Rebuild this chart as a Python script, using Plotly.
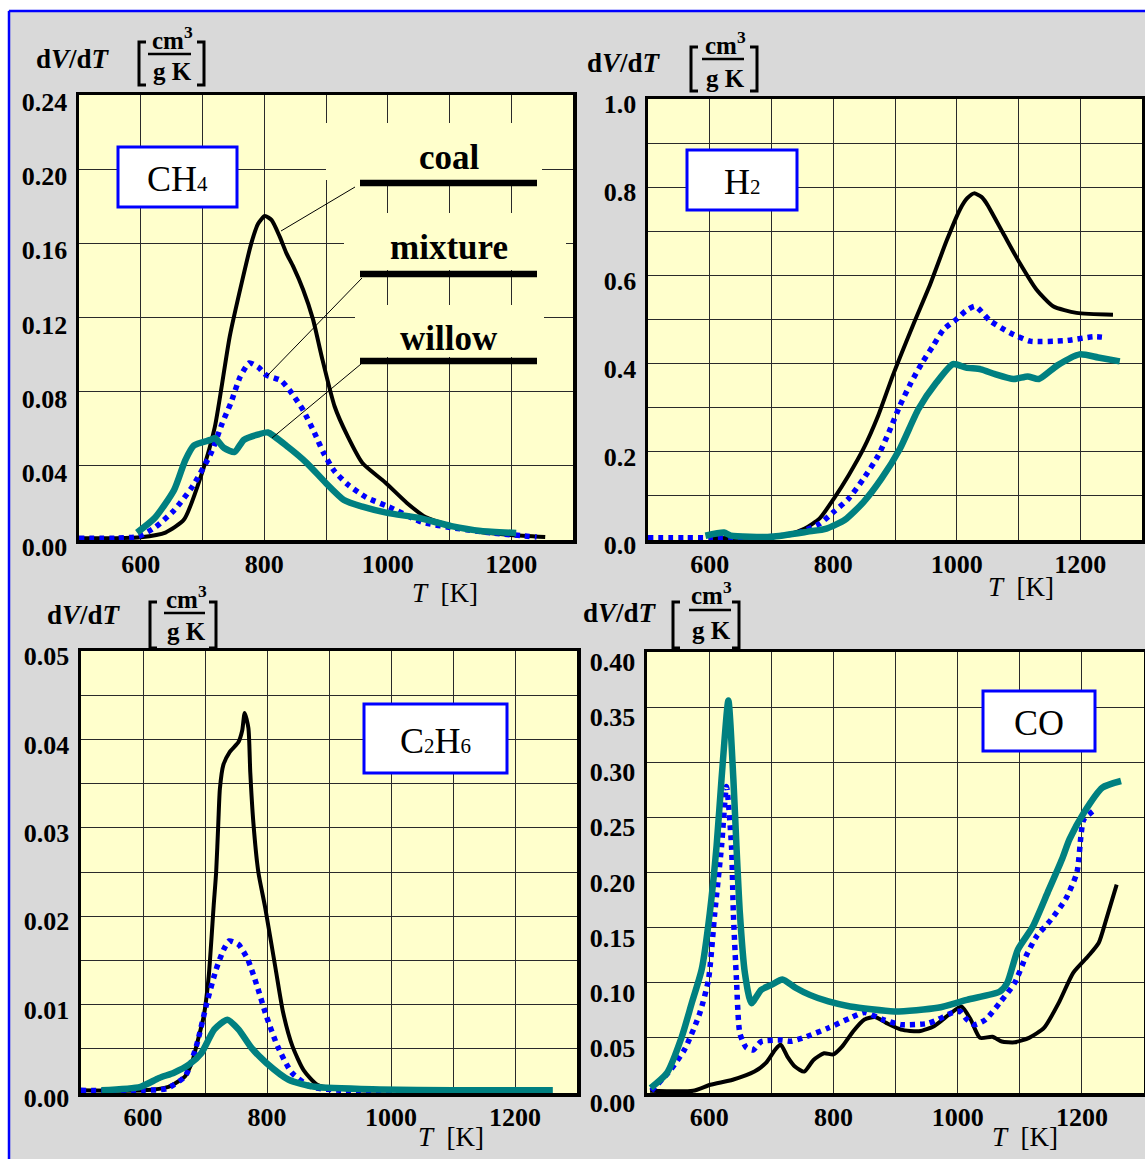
import plotly.graph_objects as go

W, H = 1145, 1159


def PX(x):
    return x / W


def PY(y):
    return 1 - y / H


# ---------------- data ----------------
T_GRID = [500, 600, 700, 800, 900, 1000, 1100, 1200, 1300]
T_TICKS = [600, 800, 1000, 1200]
T_TICKTEXT = ["600", "800", "1000", "1200"]

# CH4
ch4_T_coal = [500, 560, 600, 640, 670, 699, 720, 744, 763, 779, 790, 801, 812, 825, 836, 847, 863, 879, 893, 914, 935, 959, 996, 1031, 1061, 1100, 1151, 1199, 1255]
ch4_coal = [0.001, 0.001, 0.0015, 0.004, 0.011, 0.036, 0.061, 0.1096, 0.138, 0.160, 0.1705, 0.1747, 0.1725, 0.1636, 0.1546, 0.1474, 0.135, 0.119, 0.099, 0.072, 0.056, 0.0415, 0.031, 0.020, 0.0124, 0.008, 0.0043, 0.0027, 0.0016]
ch4_T_mix = [500, 560, 597, 624, 654, 684, 714, 732, 746, 761, 776, 791, 803, 827, 845, 863, 881, 896, 914, 935, 965, 1001, 1055, 1109, 1169, 1241]
ch4_mix = [0.001, 0.001, 0.002, 0.007, 0.016, 0.029, 0.047, 0.063, 0.074, 0.088, 0.0955, 0.093, 0.089, 0.086, 0.079, 0.070, 0.058, 0.047, 0.037, 0.030, 0.023, 0.018, 0.0097, 0.0064, 0.0038, 0.0016]
ch4_T_willow = [594, 623, 654, 672, 686, 713, 720, 735, 752, 767, 791, 806, 839, 869, 899, 929, 959, 1001, 1049, 1103, 1151, 1208]
ch4_willow = [0.004, 0.012, 0.027, 0.043, 0.051, 0.054, 0.055, 0.0496, 0.0475, 0.054, 0.057, 0.058, 0.050, 0.0415, 0.031, 0.0216, 0.018, 0.0145, 0.012, 0.0075, 0.0049, 0.0038]
ch4_ygrid = [0.0, 0.04, 0.08, 0.12, 0.16, 0.20, 0.24]
ch4_yticks = [0.0, 0.04, 0.08, 0.12, 0.16, 0.20, 0.24]
ch4_yticktext = ["0.00", "0.04", "0.08", "0.12", "0.16", "0.20", "0.24"]

# H2
h2_T_coal = [600, 650, 700, 730, 754, 778, 801, 825, 849, 873, 897, 930, 957, 984, 1005, 1017, 1028, 1040, 1048, 1075, 1102, 1129, 1156, 1194, 1253]
h2_coal = [0.004, 0.005, 0.008, 0.014, 0.026, 0.049, 0.094, 0.147, 0.207, 0.283, 0.375, 0.490, 0.580, 0.680, 0.749, 0.775, 0.786, 0.778, 0.764, 0.696, 0.628, 0.568, 0.530, 0.515, 0.511]
h2_T_mix = [500, 560, 600, 650, 700, 740, 778, 801, 825, 849, 873, 890, 908, 926, 944, 962, 979, 999, 1015, 1030, 1054, 1086, 1119, 1175, 1222, 1243]
h2_mix = [0.005, 0.005, 0.005, 0.006, 0.008, 0.015, 0.037, 0.064, 0.094, 0.139, 0.192, 0.244, 0.305, 0.357, 0.402, 0.441, 0.478, 0.500, 0.520, 0.530, 0.497, 0.470, 0.451, 0.452, 0.461, 0.459]
h2_T_willow = [593, 623, 634, 700, 759, 789, 819, 849, 878, 908, 938, 967, 994, 1015, 1039, 1062, 1092, 1115, 1133, 1163, 1199, 1229, 1264]
h2_willow = [0.0097, 0.017, 0.010, 0.0075, 0.019, 0.026, 0.046, 0.086, 0.139, 0.207, 0.297, 0.357, 0.399, 0.391, 0.387, 0.376, 0.365, 0.371, 0.365, 0.396, 0.421, 0.414, 0.405]
h2_ygrid = [0.0, 0.1, 0.2, 0.3, 0.4, 0.5, 0.6, 0.7, 0.8, 0.9, 1.0]
h2_yticks = [0.0, 0.2, 0.4, 0.6, 0.8, 1.0]
h2_yticktext = ["0.0", "0.2", "0.4", "0.6", "0.8", "1.0"]

# C2H6
c2_T_coal = [500, 600, 641, 668, 680, 686, 698, 706, 714, 718, 721.5, 724, 729.5, 740, 754, 760, 764, 770, 773, 778, 786, 797, 814, 826, 841, 859, 882, 950, 1000]
c2_coal = [0.0003, 0.0003, 0.0007, 0.0019, 0.0037, 0.0053, 0.0087, 0.0132, 0.0212, 0.0250, 0.0306, 0.0344, 0.0371, 0.0386, 0.0397, 0.0410, 0.0430, 0.0413, 0.0363, 0.0306, 0.0250, 0.0210, 0.0140, 0.0091, 0.0053, 0.0026, 0.0009, 0.0003, 0.0003]
c2_T_mix = [500, 600, 638, 668, 686, 703, 718, 730, 739, 754, 769, 784, 799, 817, 840, 871, 920, 1000]
c2_mix = [0.0003, 0.0003, 0.0005, 0.0019, 0.0053, 0.0102, 0.0140, 0.0162, 0.0172, 0.0168, 0.0151, 0.0121, 0.0087, 0.0053, 0.0023, 0.0007, 0.0003, 0.0001]
c2_T_willow = [533, 596, 626, 650, 674, 694, 715, 736, 754, 775, 799, 835, 877, 982, 1100, 1261]
c2_willow = [0.0003, 0.0007, 0.0017, 0.0023, 0.0032, 0.0045, 0.0072, 0.0083, 0.0072, 0.0051, 0.0034, 0.0015, 0.0007, 0.0004, 0.0003, 0.0003]
c2_ygrid = [0.0, 0.005, 0.01, 0.015, 0.02, 0.025, 0.03, 0.035, 0.04, 0.045, 0.05]
c2_yticks = [0.0, 0.01, 0.02, 0.03, 0.04, 0.05]
c2_yticktext = ["0.00", "0.01", "0.02", "0.03", "0.04", "0.05"]

# CO
co_T_coal = [505, 574, 602, 638, 673, 691, 706, 715, 726, 738, 753, 768, 785, 800, 814, 832, 850, 867, 885, 909, 938, 962, 986, 1006, 1021, 1036, 1056, 1071, 1092, 1115, 1139, 1163, 1186, 1210, 1227, 1239, 1256]
co_coal = [0.002, 0.002, 0.0075, 0.012, 0.0194, 0.027, 0.039, 0.044, 0.033, 0.024, 0.0194, 0.030, 0.036, 0.035, 0.042, 0.056, 0.0666, 0.069, 0.0636, 0.0575, 0.056, 0.0606, 0.071, 0.0785, 0.0666, 0.050, 0.051, 0.0467, 0.046, 0.050, 0.059, 0.082, 0.109, 0.124, 0.136, 0.157, 0.189]
co_T_mix = [507, 538, 561, 585, 599, 609, 620, 628, 636, 639, 644, 649.5, 660, 671, 684, 716, 732, 756, 792, 827, 850, 880, 909, 951, 968, 992, 1004, 1015, 1027, 1045, 1068, 1092, 1110, 1127, 1150, 1174, 1192, 1199, 1203, 1221]
co_mix = [0.002, 0.021, 0.040, 0.0725, 0.103, 0.163, 0.224, 0.278, 0.224, 0.163, 0.103, 0.054, 0.041, 0.039, 0.0467, 0.048, 0.047, 0.051, 0.059, 0.068, 0.073, 0.0666, 0.062, 0.063, 0.0666, 0.073, 0.074, 0.0666, 0.062, 0.0666, 0.082, 0.100, 0.124, 0.142, 0.157, 0.176, 0.200, 0.236, 0.248, 0.257]
co_T_willow = [506, 532, 556, 572, 588, 601, 612, 620, 631, 639, 644, 649.5, 657.5, 668, 684, 700, 718, 739, 762, 792, 827, 898, 968, 1015, 1068, 1080, 1097, 1121, 1145, 1168, 1180, 1203, 1233, 1263]
co_willow = [0.0045, 0.018, 0.051, 0.0815, 0.112, 0.163, 0.224, 0.285, 0.356, 0.285, 0.224, 0.163, 0.109, 0.0815, 0.0936, 0.098, 0.103, 0.0955, 0.089, 0.083, 0.0785, 0.074, 0.0773, 0.0845, 0.092, 0.100, 0.130, 0.151, 0.182, 0.212, 0.230, 0.254, 0.277, 0.283]
co_ygrid = [0.0, 0.05, 0.10, 0.15, 0.20, 0.25, 0.30, 0.35, 0.40]
co_yticks = [0.0, 0.05, 0.10, 0.15, 0.20, 0.25, 0.30, 0.35, 0.40]
co_yticktext = ["0.00", "0.05", "0.10", "0.15", "0.20", "0.25", "0.30", "0.35", "0.40"]

# ---------------- styles ----------------
SERIF = "Liberation Serif, Times New Roman, serif"
PLOT_BG = "#ffffcc"
PAPER_BG = "#d9d9d9"
TEAL = "#008080"
BLUE = "#0000ff"
GRID = "#2a2a2a"

fig = go.Figure()

panels = [
    ("x", "y", (ch4_T_coal, ch4_coal), (ch4_T_mix, ch4_mix), (ch4_T_willow, ch4_willow)),
    ("x2", "y2", (h2_T_coal, h2_coal), (h2_T_mix, h2_mix), (h2_T_willow, h2_willow)),
    ("x3", "y3", (c2_T_coal, c2_coal), (c2_T_mix, c2_mix), (c2_T_willow, c2_willow)),
    ("x4", "y4", (co_T_coal, co_coal), (co_T_mix, co_mix), (co_T_willow, co_willow)),
]

for xa, ya, coal, mix, wil in panels:
    fig.add_trace(go.Scatter(x=coal[0], y=coal[1], xaxis=xa, yaxis=ya, mode="lines",
                             line=dict(color="black", width=4, shape="spline", smoothing=0.6),
                             name="coal", showlegend=False, hoverinfo="skip"))
    fig.add_trace(go.Scatter(x=mix[0], y=mix[1], xaxis=xa, yaxis=ya, mode="lines",
                             line=dict(color=BLUE, width=5.5, dash="5px,5px", shape="spline", smoothing=0.6),
                             name="mixture", showlegend=False, hoverinfo="skip"))
    fig.add_trace(go.Scatter(x=wil[0], y=wil[1], xaxis=xa, yaxis=ya, mode="lines",
                             line=dict(color=TEAL, width=6.5, shape="spline", smoothing=0.6),
                             name="willow", showlegend=False, hoverinfo="skip"))

tickfont = dict(family=SERIF, size=26, color="black", weight="bold")


def minor(vals):
    return dict(tickmode="array", tickvals=vals, showgrid=True, gridcolor=GRID,
                gridwidth=1, ticks="")


def xax(x0, x1, y_anchor):
    return dict(domain=[PX(x0), PX(x1)], range=[500, 1300], tickmode="array",
                tickvals=T_TICKS, ticktext=T_TICKTEXT, showgrid=True, gridcolor=GRID,
                gridwidth=1, minor=minor(T_GRID), showline=True, linecolor="black",
                linewidth=3.5, mirror=True, ticks="", zeroline=False, tickfont=tickfont,
                anchor=y_anchor, automargin=False, ticklabelstandoff=-2, fixedrange=True)


def yax(y0, y1, rng, grid, vals, text, x_anchor, shift):
    return dict(domain=[PY(y1), PY(y0)], range=rng, tickmode="array", tickvals=vals,
                ticktext=text, showgrid=True, gridcolor=GRID, gridwidth=1,
                minor=minor(grid), showline=True, linecolor="black", linewidth=3.5,
                mirror=True, ticks="", zeroline=False, tickfont=tickfont, anchor=x_anchor,
                ticklabelshift=shift, ticklabelstandoff=3, automargin=False,
                fixedrange=True)


fig.update_layout(
    width=W, height=H, margin=dict(l=0, r=0, t=0, b=0, pad=0),
    paper_bgcolor=PAPER_BG, plot_bgcolor=PLOT_BG, showlegend=False,
    xaxis=xax(79, 573, "y"),
    yaxis=yax(95, 540, [0, 0.24], ch4_ygrid, ch4_yticks, ch4_yticktext, "x", 7),
    xaxis2=xax(648, 1142, "y2"),
    yaxis2=yax(99, 540, [0, 1.0], h2_ygrid, h2_yticks, h2_yticktext, "x2", 5),
    xaxis3=xax(81, 577, "y3"),
    yaxis3=yax(651, 1093, [0, 0.05], c2_ygrid, c2_yticks, c2_yticktext, "x3", 5),
    xaxis4=xax(647, 1144, "y4"),
    yaxis4=yax(652, 1093, [0, 0.40], co_ygrid, co_yticks, co_yticktext, "x4", 10),
)

shapes = []
annotations = []


def rect(x0, y0, x1, y1, fill, line_color=None, lw=0):
    shapes.append(dict(type="rect", xref="paper", yref="paper", x0=PX(x0), x1=PX(x1),
                       y0=PY(y1), y1=PY(y0), fillcolor=fill, layer="above",
                       line=dict(color=line_color or fill, width=lw)))


def seg(x0, y0, x1, y1, width, color="black"):
    shapes.append(dict(type="line", xref="paper", yref="paper", x0=PX(x0), x1=PX(x1),
                       y0=PY(y0), y1=PY(y1), layer="above",
                       line=dict(color=color, width=width)))


def text(x, y, s, size, bold=False, color="black"):
    annotations.append(dict(x=PX(x), y=PY(y), xref="paper", yref="paper", text=s,
                            showarrow=False, xanchor="center", yanchor="middle",
                            font=dict(family=SERIF, size=size, color=color,
                                      weight="bold" if bold else "normal")))


def bracket(x, y0, y1, serif, width=3):
    path = (f"M {PX(x + serif)},{PY(y0)} L {PX(x)},{PY(y0)} "
            f"L {PX(x)},{PY(y1)} L {PX(x + serif)},{PY(y1)}")
    shapes.append(dict(type="path", xref="paper", yref="paper", path=path, layer="above",
                       line=dict(color="black", width=width)))


# outer frame: white margins + blue border
rect(0, 0, W, 10, "white")
rect(0, 0, 8, H, "white")
seg(9, 11, W + 5, 11, 2.5, BLUE)
seg(9, 11, 9, H + 5, 2.5, BLUE)


def ylabel(dx, dy, cx, cy_top, cy_line, cy_bot, lx0, lx1, bl, br, by0, by1):
    text(dx, dy, "d<i>V</i>/d<i>T</i>", 27, bold=True)
    text(cx, cy_top, "cm<sup>3</sup>", 25, bold=True)
    seg(lx0, cy_line, lx1, cy_line, 2.5)
    text(cx, cy_bot, "g K", 25, bold=True)
    bracket(bl, by0, by1, 7)
    bracket(br, by0, by1, -7)


ylabel(73, 59, 172, 38, 54, 72, 148, 191, 139, 204, 42, 85)
ylabel(624, 63, 725, 43, 59, 78, 702, 744, 691, 757, 47, 91)
ylabel(84, 615, 186, 597, 613, 631, 164, 205, 150, 216, 602, 648)
ylabel(620, 613, 711, 593, 610, 630, 689, 731, 673, 739, 602, 648)

# x axis titles
for x, y in [(445, 593), (1021, 587), (451, 1137), (1025, 1137)]:
    text(x, y, "<i>T</i>  [K]", 27)

# gas labels in boxes
SUB = '<span style="font-size:21px">{}</span>'
for (x0, y0, x1, y1), lab in [((118, 147, 237, 207), "CH" + SUB.format("4")),
                              ((687, 150, 797, 210), "H" + SUB.format("2")),
                              ((364, 704, 507, 773), "C" + SUB.format("2") + "H" + SUB.format("6")),
                              ((983, 691, 1095, 751), "CO")]:
    rect(x0, y0, x1, y1, "white", BLUE, 3)
    text((x0 + x1) / 2, (y0 + y1) / 2 + 2, lab, 36)

# legend in CH4 panel (masks over grid, labels, bars, leader lines)
rect(326, 123, 542, 180, PLOT_BG)
rect(344, 213, 566, 270, PLOT_BG)
rect(355, 305, 544, 357, PLOT_BG)
for label, ty, by in [("coal", 157, 183), ("mixture", 248, 274), ("willow", 338, 361)]:
    text(449, ty, label, 35, bold=True)
    seg(360, by, 537, by, 6.5)
seg(355, 187, 281, 231, 1)
seg(362, 278, 267, 376, 1)
seg(361, 364, 272, 438, 1)

fig.update_layout(shapes=shapes, annotations=annotations)

fig.write_html("out.html", config={"displayModeBar": False, "staticPlot": True},
               post_script="document.body.style.margin='0';document.body.style.overflow='hidden';")
